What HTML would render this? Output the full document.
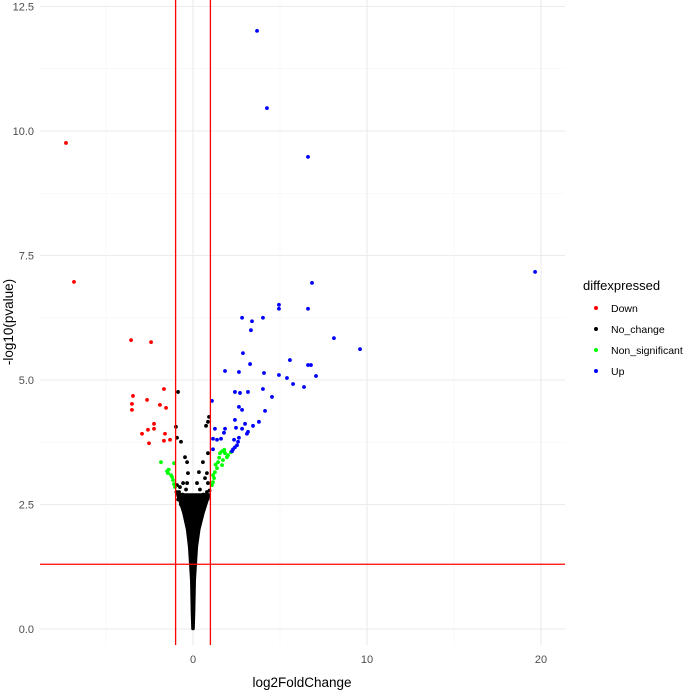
<!DOCTYPE html>
<html><head><meta charset="utf-8"><style>
body{margin:0;background:#fff;font-family:"Liberation Sans",sans-serif;}
svg text{font-family:"Liberation Sans",sans-serif;}
</style></head><body>
<svg id="chart" width="685" height="692" viewBox="0 0 685 692" xmlns="http://www.w3.org/2000/svg">
<g id="grid"></g>
<g id="funnel"></g>
<g id="points"></g>
<g id="thresh"></g>
<g id="axes"></g>
<text x="302" y="687" font-size="13.5" text-anchor="middle" fill="#000">log2FoldChange</text>
<text transform="translate(13,322) rotate(-90)" font-size="13.5" text-anchor="middle" fill="#000">-log10(pvalue)</text>
<g>
<text x="583" y="290" font-size="13" fill="#000">diffexpressed</text>
<circle cx="596" cy="308" r="2" fill="#ff0000"/><text x="611" y="312" font-size="10.5" fill="#000">Down</text>
<circle cx="596" cy="329" r="2" fill="#000"/><text x="611" y="333" font-size="10.5" fill="#000">No_change</text>
<circle cx="596" cy="350" r="2" fill="#00ff00"/><text x="611" y="354" font-size="10.5" fill="#000">Non_significant</text>
<circle cx="596" cy="371" r="2" fill="#0000ff"/><text x="611" y="375" font-size="10.5" fill="#000">Up</text>
</g>
</svg>
<script>
const xTicks=[0,10,20];
const xMinor=[-5,5,15];
const yTicks=[0,2.5,5,7.5,10,12.5];
const yTickLabels=["0.0","2.5","5.0","7.5","10.0","12.5"];
const downX=[-7.3,-6.84,-3.56,-2.41,-1.67,-3.45,-2.64,-3.51,-3.51,-1.90,-1.55,-2.24,-2.59,-2.24,-2.93,-1.61,-2.53,-1.67,-1.32];
const downY=[9.76,6.97,5.80,5.76,4.82,4.68,4.60,4.52,4.40,4.50,4.44,4.12,4.00,4.02,3.92,3.92,3.73,3.78,3.80];
const upX=[3.68,4.25,6.61,19.66,6.84,4.94,4.94,6.61,2.82,3.39,4.02,3.33,8.10,9.60,2.87,5.57,3.28,6.61,6.78,1.84,2.64,4.08,4.94,5.40,7.07,5.75,6.38,2.41,2.70,3.16,4.02,4.54,1.09,2.64,2.82,4.14,2.41,3.79,2.99,3.45,1.26,1.84,2.47,2.82,3.16,1.78,3.10,2.64,1.15,1.38,1.61,2.36,2.59,2.53,2.41,2.30,2.24,1.15];
const upY=[12.01,10.46,9.48,7.17,6.95,6.51,6.43,6.43,6.25,6.18,6.25,6.00,5.84,5.62,5.54,5.40,5.32,5.30,5.30,5.18,5.16,5.14,5.10,5.04,5.08,4.92,4.86,4.76,4.74,4.76,4.82,4.66,4.58,4.46,4.40,4.38,4.20,4.16,4.12,4.08,4.02,4.02,4.04,4.02,3.96,3.94,3.92,3.84,3.82,3.80,3.82,3.80,3.76,3.69,3.65,3.61,3.57,3.61];
const nsX=[-1.84,-1.09,-1.49,-1.44,-1.26,-1.15,-1.09,-1.03,1.67,1.55,1.95,1.72,1.44,1.67,1.38,1.26,1.15,1.21,1.15,1.09,2.01,2.18,1.84,1.5,1.3,1.8,-1.4,-1.2];
const nsY=[3.35,3.33,3.17,3.13,3.09,2.99,2.91,2.85,3.57,3.53,3.45,3.39,3.35,3.29,3.23,3.15,3.09,3.03,2.95,2.89,3.49,3.55,3.53,3.44,3.3,3.6,3.2,3.05];
const ncX=[-0.86,-0.98,-0.92,-0.69,0.75,0.92,0.86,-0.46,-0.34,0.57,0.86,0.34,-0.29,0.69,0.80,-0.57,0.23,-0.34,-0.92,0.86,-0.8,0.8,-0.6,0.6,-0.4,0.4,-0.85,0.85,-0.7,0.7,-0.5,0.5,-0.95,0.95,-0.75,0.3,-0.3];
const ncY=[4.76,4.06,3.84,3.76,4.08,4.26,4.16,3.45,3.35,3.35,3.53,3.15,3.13,3.03,3.13,2.93,2.93,2.93,2.89,2.93,2.75,2.75,2.7,2.7,2.8,2.8,2.6,2.62,2.5,2.55,2.45,2.45,2.75,2.78,2.85,2.6,2.65];
const funnelY=[0.0,0.32,0.98,1.65,2.0,2.33,2.55,2.7];
const funnelLeft=[-0.03,-0.06,-0.1,-0.22,-0.34,-0.55,-0.75,-0.9];
const funnelRight=[0.03,0.06,0.1,0.22,0.36,0.6,0.8,0.95];
const vThresh=[-1,1];
const hThresh=[1.3];

const X0=40,X1=565,Y0=0,Y1=645;
const xs=v=>193+17.4*v;
const ys=v=>629-49.8*v;
const NS="http://www.w3.org/2000/svg";
function mk(tag,parent,attrs){const e=document.createElementNS(NS,tag);for(const k in attrs)e.setAttribute(k,attrs[k]);document.getElementById(parent).appendChild(e);return e;}

yTicks.forEach((t,i)=>{
 const l=mk('line','grid',{x1:X0,x2:X1,y1:ys(t),y2:ys(t),stroke:'#ebebeb','stroke-width':1.1});
 
 
 if(i<yTicks.length-1){const m=(t+yTicks[i+1])/2;
  const l2=mk('line','grid',{x1:X0,x2:X1,y1:ys(m),y2:ys(m),stroke:'#f3f3f3','stroke-width':0.6});
  
  }
 const tx=mk('text','axes',{x:34,y:ys(t)+4,'font-size':11,'text-anchor':'end',fill:'#4d4d4d'});
 tx.textContent=yTickLabels[i];
 
 
});
xMinor.forEach(t=>{
 const l=mk('line','grid',{x1:xs(t),x2:xs(t),y1:Y0,y2:Y1,stroke:'#f3f3f3','stroke-width':0.6});
 
 
});
xTicks.forEach(t=>{
 const l=mk('line','grid',{x1:xs(t),x2:xs(t),y1:Y0,y2:Y1,stroke:'#ebebeb','stroke-width':1.1});
 
 
 const tx=mk('text','axes',{x:xs(t),y:663,'font-size':11,'text-anchor':'middle',fill:'#4d4d4d'});
 tx.textContent=String(t);
 
 
});

let pts=[];
for(let i=0;i<funnelY.length;i++)pts.push(xs(funnelLeft[i])+','+ys(funnelY[i]));
for(let i=funnelY.length-1;i>=0;i--)pts.push(xs(funnelRight[i])+','+ys(funnelY[i]));
const poly=mk('polygon','funnel',{points:pts.join(' '),fill:'#000',stroke:'#000','stroke-width':2.5,'stroke-linejoin':'round'});



function series(xa,ya,col,name){
 xa.forEach((x,i)=>{
  const c=mk('circle','points',{cx:xs(x),cy:ys(ya[i]),r:1.9,fill:col});
  
  
 });
}
series(ncX,ncY,'#000000','point-no-change');
series(nsX,nsY,'#00ff00','point-non-significant');
series(downX,downY,'#ff0000','point-down');
series(upX,upY,'#0000ff','point-up');

vThresh.forEach(v=>{
 const l=mk('line','thresh',{x1:xs(v),x2:xs(v),y1:Y0,y2:Y1,stroke:'#ff0000','stroke-width':1.3});
 
 
});
hThresh.forEach(v=>{
 const l=mk('line','thresh',{x1:X0,x2:X1,y1:ys(v),y2:ys(v),stroke:'#ff0000','stroke-width':1.3});
 
 
});
</script>
</body></html>
